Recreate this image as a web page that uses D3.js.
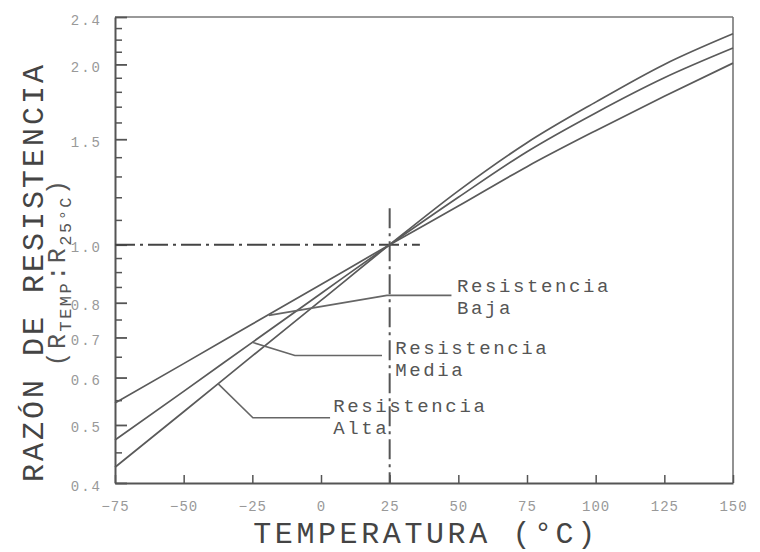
<!DOCTYPE html>
<html>
<head>
<meta charset="utf-8">
<script src="https://cdn.jsdelivr.net/npm/d3@7"></script>
<style>
  body { margin: 0; background: #fff; }
  svg { display: block; font-family: "Liberation Mono", "Courier New", monospace; }
</style>
</head>
<body>
<div id="chart"></div>
<script>
const width = 760;
const height = 552;
const margin = { top: 17, right: 27, bottom: 69, left: 115 };

// temperaturas (°C) y razones
const temps = [-75, -50, -25, 0, 25, 50, 75, 100, 125, 150];
const bajaRatio = [0.544, 0.633, 0.737, 0.858, 1.0, 1.16, 1.35, 1.55, 1.77, 2.01];
const mediaRatio = [0.472, 0.569, 0.687, 0.829, 1.0, 1.20, 1.43, 1.66, 1.90, 2.13];
const altaRatio = [0.425, 0.526, 0.652, 0.807, 1.0, 1.23, 1.48, 1.73, 2.0, 2.25];

const xTicks = [-75, -50, -25, 0, 25, 50, 75, 100, 125, 150];
const yMajor = [0.4, 0.5, 0.6, 0.7, 0.8, 1.0, 1.5, 2.0, 2.4];
const yMinor = [0.45, 0.55, 0.65, 0.75, 0.85, 0.9, 0.95, 1.1, 1.2, 1.3, 1.4, 1.6, 1.7, 1.8, 1.9, 2.1, 2.2, 2.3];

// etiquetas con lineas guia: [temp, razon] en unidades de datos
const labels = [
  { lines: ['Resistencia', 'Baja'], at: [49.5, 0.835], path: [[-19, 0.762], [24, 0.823], [47.5, 0.823]] },
  { lines: ['Resistencia', 'Media'], at: [27, 0.657], path: [[-25, 0.687], [-9.5, 0.653], [22.2, 0.653]] },
  { lines: ['Resistencia', 'Alta'], at: [4.5, 0.526], path: [[-37.5, 0.586], [-24.8, 0.514], [3.3, 0.514]] }
];

const svg = d3.select('#chart')
  .append('svg')
  .attr('width', width)
  .attr('height', height);

const x = d3.scaleLinear()
  .domain([-75, 150])
  .range([margin.left, width - margin.right]);

const y = d3.scaleLog()
  .domain([0.4, 2.4])
  .range([height - margin.bottom, margin.top]);

// marco superior y derecho
svg.append('line')
  .attr('x1', x(-75)).attr('x2', x(150))
  .attr('y1', y(2.4)).attr('y2', y(2.4))
  .attr('stroke', '#777').attr('stroke-width', 1.6);
svg.append('line')
  .attr('x1', x(150)).attr('x2', x(150))
  .attr('y1', y(2.4)).attr('y2', y(0.4))
  .attr('stroke', '#777').attr('stroke-width', 1.6);

// eje horizontal
svg.append('g')
  .attr('transform', `translate(0, ${y(0.4)})`)
  .call(d3.axisBottom(x).tickValues(xTicks).tickSizeInner(-8).tickSizeOuter(0).tickPadding(18))
  .call(g => g.select('.domain').attr('stroke', '#555').attr('stroke-width', 2))
  .call(g => g.selectAll('.tick line').attr('stroke', '#555').attr('stroke-width', 1.5))
  .call(g => g.selectAll('.tick text')
    .attr('fill', '#999')
    .attr('font-size', 14)
    .attr('font-family', '"Liberation Mono", monospace')
    .style('letter-spacing', '1px'));

// eje vertical: marcas menores
svg.append('g')
  .attr('transform', `translate(${x(-75)}, 0)`)
  .call(d3.axisLeft(y).tickValues(yMinor).tickSizeInner(-7).tickSizeOuter(0).tickFormat(''))
  .call(g => g.select('.domain').remove())
  .call(g => g.selectAll('.tick line').attr('stroke', '#555').attr('stroke-width', 1.5));

// eje vertical: marcas mayores
svg.append('g')
  .attr('transform', `translate(${x(-75)}, 0)`)
  .call(d3.axisLeft(y).tickValues(yMajor).tickSizeInner(-12).tickSizeOuter(0).tickPadding(13).tickFormat(d3.format('.1f')))
  .call(g => g.select('.domain').attr('stroke', '#555').attr('stroke-width', 2))
  .call(g => g.selectAll('.tick line').attr('stroke', '#555').attr('stroke-width', 1.8))
  .call(g => g.selectAll('.tick text')
    .attr('fill', '#999')
    .attr('font-size', 14)
    .attr('dy', '0.5em')
    .attr('font-family', '"Liberation Mono", monospace')
    .style('letter-spacing', '2px'));

// lineas de referencia punto-raya
const dashDot = '20,5,3,5';
svg.append('line')
  .attr('x1', x(-75)).attr('x2', x(36))
  .attr('y1', y(1.0)).attr('y2', y(1.0))
  .attr('stroke', '#444').attr('stroke-width', 2)
  .attr('stroke-dasharray', dashDot);
svg.append('line')
  .attr('x1', x(25)).attr('x2', x(25))
  .attr('y1', y(1.15)).attr('y2', y(0.4))
  .attr('stroke', '#555').attr('stroke-width', 2)
  .attr('stroke-dasharray', dashDot);

// curvas
const line = d3.line()
  .x(d => x(d[0]))
  .y(d => y(d[1]))
  .curve(d3.curveMonotoneX);

[bajaRatio, mediaRatio, altaRatio].forEach(series => {
  svg.append('path')
    .datum(temps.map((t, i) => [t, series[i]]))
    .attr('d', line)
    .attr('fill', 'none')
    .attr('stroke', '#5a5a5a')
    .attr('stroke-width', 1.7);
});

// lineas guia y etiquetas
const guide = d3.line().x(d => x(d[0])).y(d => y(d[1]));
labels.forEach(l => {
  svg.append('path')
    .attr('d', guide(l.path))
    .attr('fill', 'none')
    .attr('stroke', '#666')
    .attr('stroke-width', 1.6);
  const t = svg.append('text')
    .attr('x', x(l.at[0]))
    .attr('y', y(l.at[1]))
    .attr('font-size', 19)
    .attr('fill', '#555')
    .style('letter-spacing', '2.6px');
  l.lines.forEach((s, i) => {
    t.append('tspan')
      .attr('x', x(l.at[0]))
      .attr('dy', i === 0 ? 0 : 22)
      .text(s);
  });
});

// titulos de ejes
svg.append('text')
  .attr('x', 426)
  .attr('y', 543)
  .attr('text-anchor', 'middle')
  .attr('font-size', 30)
  .attr('fill', '#444')
  .style('letter-spacing', '3.6px')
  .text('TEMPERATURA (°C)');

svg.append('text')
  .attr('transform', 'translate(43, 272) rotate(-90)')
  .attr('text-anchor', 'middle')
  .attr('font-size', 30)
  .attr('fill', '#444')
  .style('letter-spacing', '3px')
  .text('RAZÓN DE RESISTENCIA');

const sub = svg.append('text')
  .attr('transform', 'translate(65, 272) rotate(-90)')
  .attr('text-anchor', 'middle')
  .attr('font-size', 25)
  .attr('fill', '#555')
  .style('letter-spacing', '2.5px');
sub.append('tspan').text('(R');
sub.append('tspan').attr('font-size', 17).attr('dy', 6).text('TEMP');
sub.append('tspan').attr('dy', -6).text(':R');
sub.append('tspan').attr('font-size', 17).attr('dy', 6).text('25°C');
sub.append('tspan').attr('dy', -6).text(')');
</script>
</body>
</html>
